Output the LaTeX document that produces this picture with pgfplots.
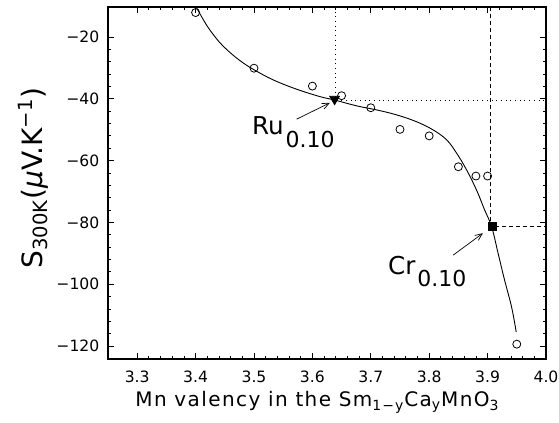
\documentclass[border=0pt]{standalone}
\usepackage{pgfplots}
\pgfplotsset{compat=1.18}
\usepackage{fontspec}
\setmainfont{DejaVu Sans}
\usetikzlibrary{arrows.meta}

\begin{document}
\begin{tikzpicture}
\useasboundingbox (-54pt,-32pt) rectangle (225.5pt,179.5pt);
\begin{axis}[
  at={(0,0)}, anchor=south west,
  scale only axis, width=219pt, height=176pt,
  xmin=3.25, xmax=4.0, ymin=-124.2, ymax=-10.3,
  xtick={3.3,3.4,3.5,3.6,3.7,3.8,3.9,4.0},
  xticklabels={3.3,3.4,3.5,3.6,3.7,3.8,3.9,4.0},
  ytick={-120,-100,-80,-60,-40,-20},
  yticklabels={−120,−100,−80,−60,−40,−20},
  minor x tick num=4, minor y tick num=4,
  tick align=inside,
  major tick length=3pt, minor tick length=1.5pt,
  axis line style={line width=0.8pt},
  every tick/.style={black, line width=0.4pt},
  tick label style={font=\fontsize{7.8}{9}\selectfont},
  xticklabel style={yshift=-2.5pt},
  yticklabel style={xshift=-0.8pt},
]
% guide lines
\addplot[black, line width=0.35pt, dotted] coordinates {(3.64,-10.3) (3.64,-40.5) (4.0,-40.5)};
\addplot[black, line width=0.45pt, dash pattern=on 2pt off 1.5pt] coordinates {(3.905,-10.3) (3.905,-81.2) (4.0,-81.2)};
% fitted curve
\addplot[black, line width=0.45pt, smooth, tension=0.6] coordinates {
  (3.401,-10.3) (3.420,-16.5) (3.440,-21.5) (3.460,-25.2) (3.480,-28.2)
  (3.500,-30.6) (3.533,-33.9) (3.573,-36.9) (3.613,-39.3) (3.638,-40.4)
  (3.676,-42.3) (3.710,-43.6) (3.744,-45.2) (3.778,-47.4) (3.807,-50.1)
  (3.830,-53.3) (3.847,-57.6) (3.864,-63.0) (3.881,-69.5) (3.895,-76.0)
  (3.907,-81.4) (3.918,-90.0) (3.929,-98.6) (3.941,-107.3) (3.949,-115.4)
};
% measured points
\addplot[only marks, mark=o, mark size=2pt, mark options={line width=0.4pt}] coordinates {
  (3.40,-12.1) (3.50,-30.1) (3.60,-35.9) (3.65,-39.0) (3.70,-42.9)
  (3.75,-49.9) (3.80,-52.0) (3.85,-62.0) (3.88,-65.0) (3.90,-65.0)
  (3.95,-119.4)
};
\addplot[only marks, mark=triangle*, mark size=2.8pt, mark options={rotate=180}] coordinates {(3.638,-40.1)};
\addplot[only marks, mark=square*, mark size=2pt] coordinates {(3.908,-81.2)};
% annotations
\draw[-{Straight Barb[length=3.5pt,width=3pt]}, line width=0.35pt] (axis cs:3.573,-46.6) -- (axis cs:3.630,-41.3);
\draw[-{Straight Barb[length=3.5pt,width=3pt]}, line width=0.35pt] (axis cs:3.841,-90.6) -- (axis cs:3.892,-83.5);
\node[anchor=base west, inner sep=0pt] at (axis cs:3.496,-51.7)
  {\fontsize{12.3}{14}\selectfont Ru\hspace{1pt}\raisebox{-6.5pt}{\fontsize{11}{12}\selectfont 0.10}};
\node[anchor=base west, inner sep=0pt] at (axis cs:3.729,-97.0)
  {\fontsize{12.3}{14}\selectfont Cr\hspace{1pt}\raisebox{-5.8pt}{\fontsize{11}{12}\selectfont 0.10}};
\end{axis}
\node[anchor=base] at (104.75pt,-24pt)
  {\fontsize{10}{12}\selectfont\addfontfeatures{LetterSpace=7}Mn valency in the Sm\textsubscript{1−y}Ca\textsubscript{y}MnO\textsubscript{3}};
\node[rotate=90, anchor=base] at (-32.5pt,90.5pt)
  {\fontsize{14}{16}\selectfont S\textsubscript{300K}(\textit{μ}V.K\textsuperscript{−1})};
\end{tikzpicture}
\end{document}
